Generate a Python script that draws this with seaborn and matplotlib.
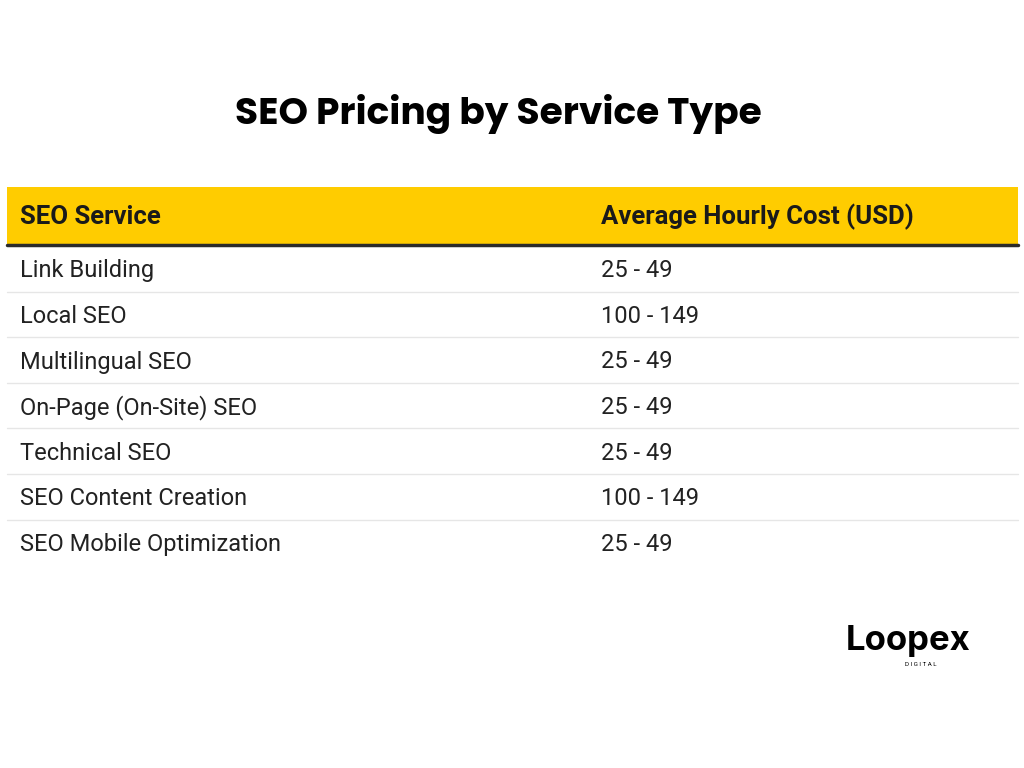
import matplotlib.pyplot as plt
import seaborn as sns
from matplotlib.patches import Rectangle

sns.set_theme(style="white")
plt.rcParams['font.family'] = ['Roboto', 'DejaVu Sans']

title = "SEO Pricing by Service Type"
columns = ["SEO Service", "Average Hourly Cost (USD)"]
services = ["Link Building", "Local SEO", "Multilingual SEO", "On-Page (On-Site) SEO",
            "Technical SEO", "SEO Content Creation", "SEO Mobile Optimization"]
costs = ["25 - 49", "100 - 149", "25 - 49", "25 - 49", "25 - 49", "100 - 149", "25 - 49"]

fig = plt.figure(figsize=(10.24, 7.68), dpi=100)
ax = fig.add_axes([0, 0, 1, 1])
ax.set_xlim(0, 1024)
ax.set_ylim(768, 0)
ax.axis("off")

ax.text(498, 114, title, ha="center", va="center", fontsize=27, fontweight="bold",
        family=["Poppins", "Inter", "DejaVu Sans"], color="black")

# header band
left, right, top, head_h, row_h = 7, 1018, 187, 58, 45.6
col_x = [20, 601]
ax.add_patch(Rectangle((left, top), right - left, head_h, color="#FFCC00", lw=0))
ax.plot([left, right], [top + head_h, top + head_h], color="#2b2b2b", lw=2.5)
for x, c in zip(col_x, columns):
    ax.text(x, top + head_h / 2 + 1, c, ha="left", va="center", fontsize=18.5,
            fontweight="bold", color="#1a1a1a")

y0 = top + head_h
for i, (s, c) in enumerate(zip(services, costs)):
    yc = y0 + row_h * (i + 0.5) + 3
    ax.text(col_x[0], yc, s, ha="left", va="center", fontsize=17, color="#222222")
    ax.text(col_x[1], yc, c, ha="left", va="center", fontsize=17, color="#222222")
    if i < len(services) - 1:
        yl = y0 + row_h * (i + 1) + 1
        ax.plot([left, right], [yl, yl], color="#e6e6e6", lw=1)

# logo
ax.text(846, 641, "Loopex", ha="left", va="center", fontsize=25, fontweight="bold",
        color="black", family=["Inter", "DejaVu Sans"])
ax.text(905, 664, "D I G I T A L", ha="left", va="center", fontsize=4.5, color="black")

fig.savefig("out.png", dpi=100, facecolor="white")
